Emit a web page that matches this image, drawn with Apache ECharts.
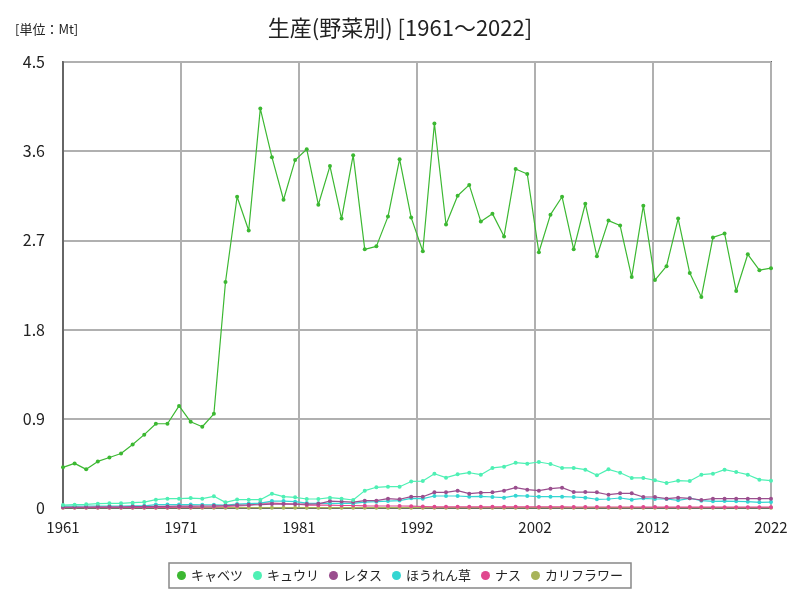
<!DOCTYPE html>
<html><head><meta charset="utf-8">
<script src="https://cdn.jsdelivr.net/npm/echarts@6/dist/echarts.min.js"></script>
<style>html,body{margin:0;padding:0;background:#fff}#c{width:800px;height:600px}</style>
</head><body><div id="c"></div>
<script>
const years = [1961,1962,1963,1964,1965,1966,1967,1968,1969,1970,1971,1972,1973,1974,1975,1976,1977,1978,1979,1980,1981,1982,1983,1984,1985,1986,1987,1988,1989,1990,1991,1992,1993,1994,1995,1996,1997,1998,1999,2000,2001,2002,2003,2004,2005,2006,2007,2008,2009,2010,2011,2012,2013,2014,2015,2016,2017,2018,2019,2020,2021,2022];
const cabbage = [0.41,0.45,0.39,0.47,0.51,0.55,0.64,0.74,0.85,0.85,
1.03,0.87,0.82,0.95,2.28,3.14,2.80,4.03,3.54,3.11,
3.51,3.62,3.06,3.45,2.92,3.56,2.61,2.64,2.94,3.52,
2.93,2.59,3.88,2.86,3.15,3.26,2.89,2.97,2.74,3.42,
3.37,2.58,2.96,3.14,2.61,3.07,2.54,2.90,2.85,2.33,
3.05,2.30,2.44,2.92,2.37,2.13,2.73,2.77,2.19,2.56,
2.40,2.42];
const cucumber = [0.030,0.034,0.037,0.044,0.047,0.047,0.054,0.060,0.084,0.094,
0.094,0.100,0.094,0.118,0.057,0.085,0.084,0.084,0.145,0.114,
0.108,0.091,0.091,0.104,0.094,0.081,0.175,0.209,0.215,0.215,
0.268,0.272,0.346,0.306,0.340,0.356,0.336,0.404,0.417,0.457,
0.447,0.464,0.444,0.404,0.404,0.387,0.330,0.390,0.356,0.303,
0.303,0.279,0.252,0.276,0.272,0.336,0.346,0.387,0.363,0.336,
0.286,0.276];
const lettuce = [0.010,0.010,0.010,0.012,0.012,0.012,0.014,0.014,0.016,0.016,
0.018,0.018,0.020,0.022,0.025,0.030,0.032,0.035,0.040,0.040,
0.040,0.040,0.042,0.070,0.065,0.060,0.074,0.074,0.094,0.088,
0.114,0.114,0.158,0.158,0.175,0.145,0.155,0.158,0.175,0.205,
0.185,0.175,0.195,0.205,0.161,0.161,0.158,0.134,0.148,0.148,
0.111,0.111,0.094,0.104,0.098,0.081,0.094,0.094,0.094,0.094,
0.094,0.094];
const spinach = [0.018,0.018,0.020,0.020,0.020,0.020,0.022,0.022,0.035,0.035,
0.035,0.035,0.033,0.033,0.030,0.040,0.045,0.050,0.070,0.070,
0.064,0.050,0.047,0.047,0.047,0.047,0.060,0.064,0.070,0.075,
0.098,0.094,0.121,0.121,0.121,0.114,0.118,0.111,0.104,0.124,
0.121,0.114,0.114,0.114,0.111,0.104,0.088,0.091,0.101,0.084,
0.098,0.091,0.091,0.077,0.098,0.074,0.067,0.070,0.067,0.064,
0.057,0.060];
const eggplant = [0.005,0.005,0.005,0.005,0.005,0.005,0.005,0.005,0.005,0.005,
0.008,0.008,0.010,0.012,0.015,0.020,0.025,0.050,0.050,0.045,
0.040,0.030,0.028,0.030,0.025,0.025,0.022,0.020,0.020,0.020,
0.018,0.015,0.012,0.012,0.012,0.012,0.012,0.012,0.012,0.012,
0.011,0.011,0.011,0.011,0.010,0.010,0.010,0.010,0.010,0.010,
0.009,0.009,0.009,0.009,0.009,0.009,0.008,0.008,0.008,0.008,
0.008,0.008];
const cauliflower = [0.003,0.003,0.003,0.003,0.003,0.003,0.003,0.003,0.003,0.003,
0.003,0.003,0.003,0.003,0.003,0.003,0.003,0.003,0.003,0.003,
0.003,0.003,0.003,0.003,0.003,0.003,0.003,0.003,0.003,0.003,
0.003,0.003,0.003,0.003,0.003,0.003,0.003,0.003,0.003,0.003,
0.003,0.003,0.003,0.003,0.003,0.003,0.003,0.003,0.003,0.003,
0.003,0.003,0.003,0.003,0.003,0.003,0.003,0.003,0.003,0.003,
0.003,0.003];
const seriesNames = ['キャベツ','キュウリ','レタス','ほうれん草','ナス','カリフラワー'];
const seriesData = [cabbage, cucumber, lettuce, spinach, eggplant, cauliflower];
const colors = ['#3cb832','#4ef0b4','#9a4e8e','#34d6d2','#e0488e','#a8b45a'];
const zOrder = [6,5,4,3,2,1];

const chart = echarts.init(document.getElementById('c'), null, {renderer:'canvas'});
const FONT = '"Noto Sans CJK JP", "Noto Sans", sans-serif';
chart.setOption({
  animation:false,
  backgroundColor:'#fff',
  title:[
    {text:'生産(野菜別) [1961～2022]', left:'center', top:12, textStyle:{fontFamily:FONT, fontSize:22, fontWeight:'normal', color:'#222'}},
    {text:'[単位：Mt]', left:10, top:18, textStyle:{fontFamily:FONT, fontSize:13, fontWeight:'normal', color:'#222'}}
  ],
  grid:{left:63, right:29, top:62, bottom:92, show:true, borderColor:'#666', borderWidth:2},
  legend:{bottom:12, left:'center', data:seriesNames, icon:'circle', itemWidth:9, itemHeight:9, itemGap:10,
    borderColor:'#888', borderWidth:1.5, padding:[6,8], textStyle:{fontFamily:FONT, fontSize:13, color:'#222'}},
  xAxis:{type:'value', min:1961, max:2022, interval:61/6,
    axisLine:{show:true, lineStyle:{color:'#666', width:2}}, axisTick:{show:false},
    splitLine:{show:true, lineStyle:{color:'#b0b0b0', width:2}},
    axisLabel:{fontFamily:FONT, fontSize:15, color:'#222', margin:12, formatter:v=>String(Math.round(v))}},
  yAxis:{type:'value', min:0, max:4.5, interval:0.9,
    axisLine:{show:true, lineStyle:{color:'#666', width:2}}, axisTick:{show:false},
    splitLine:{show:true, lineStyle:{color:'#b0b0b0', width:2}},
    axisLabel:{fontFamily:FONT, fontSize:16, color:'#222', margin:18, formatter:v=>v===0?'0':v.toFixed(1)}},
  series: seriesNames.map((n,i)=>({
    name:n, type:'line', data: years.map((y,j)=>[y, seriesData[i][j]]),
    symbol:'circle', symbolSize:4, color:colors[i], z:zOrder[i],
    lineStyle:{width:1.2, color:colors[i]}, itemStyle:{color:colors[i]}
  }))
});
</script></body></html>
